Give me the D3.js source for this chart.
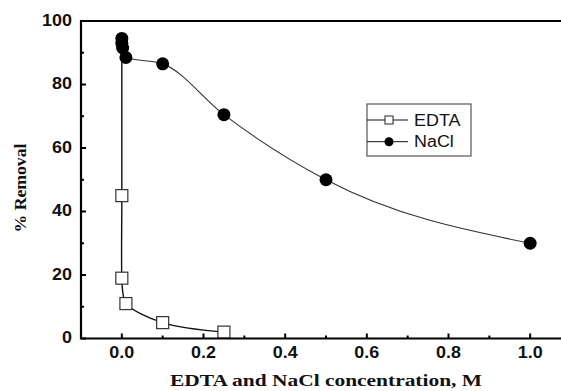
<!DOCTYPE html>
<html lang="en">
<head>
  <meta charset="UTF-8">
  <title>% Removal vs EDTA and NaCl concentration</title>
  <script src="https://d3js.org/d3.v7.min.js"></script>
  <style>
    body { margin: 0; background: #fff; }
    .tick-label { font-family: Arial, "Liberation Sans", sans-serif; font-weight: bold; font-size: 16px; fill: #111; }
    .axis-title { font-family: "Times New Roman", "Liberation Serif", serif; font-weight: bold; font-size: 16px; fill: #111; }
    .legend-text { font-family: Arial, "Liberation Sans", sans-serif; font-size: 16px; fill: #111; }
  </style>
</head>
<body>
  <div id="chart"></div>

  <script>
    // data
    const edtaConc = [0, 0, 0, 0.003, 0.01, 0.1, 0.25];
    const edtaRemoval = [90, 45, 19, 14, 11, 5, 2];
    const edtaShown = [false, true, true, false, true, true, true];

    const naclConc = [0, 0, 0.002, 0.01, 0.1, 0.25, 0.5, 1.0];
    const naclRemoval = [94.5, 93, 91.5, 88.5, 86.5, 70.5, 50, 30];

    const xTicks = [0.0, 0.2, 0.4, 0.6, 0.8, 1.0];
    const xMinor = [-0.1, 0.1, 0.3, 0.5, 0.7, 0.9];
    const yTicks = [0, 20, 40, 60, 80, 100];
    const yMinor = [10, 30, 50, 70, 90];

    const W = 561, H = 391;
    const plot = {left: 81, right: 571, top: 21, bottom: 338.5};
    const stretch = 1.12; // the original figure is a bit wide

    const x = d3.scaleLinear().domain([-0.1, 1.1]).range([plot.left, plot.right]);
    const y = d3.scaleLinear().domain([0, 100]).range([plot.bottom, plot.top]);

    const svg = d3.select("#chart").append("svg")
      .attr("width", W)
      .attr("height", H);

    function widen(sel) {
      sel.each(function() {
        const w = this.getComputedTextLength();
        d3.select(this).attr("textLength", w * stretch).attr("lengthAdjust", "spacingAndGlyphs");
      });
    }

    const edta = edtaConc.map((c, i) => [c, edtaRemoval[i], edtaShown[i]]);
    const nacl = naclConc.map((c, i) => [c, naclRemoval[i]]);

    // lines
    const edtaLine = d3.line()
      .x(d => x(d[0]))
      .y(d => y(d[1]))
      .curve(d3.curveCatmullRom.alpha(0.5));

    // monotone needs increasing x, keep the last point of each x group
    const naclPath = nacl.filter((d, i, a) => i === a.length - 1 || d[0] < a[i + 1][0]);
    const naclLine = d3.line()
      .x(d => x(d[0]))
      .y(d => y(d[1]))
      .curve(d3.curveMonotoneX);

    svg.append("path")
      .attr("d", edtaLine(edta))
      .attr("fill", "none")
      .attr("stroke", "#111")
      .attr("stroke-width", 1.4);

    svg.append("path")
      .attr("d", naclLine(naclPath))
      .attr("fill", "none")
      .attr("stroke", "#333")
      .attr("stroke-width", 1.1);

    // markers
    const sq = 12;
    svg.append("g")
      .selectAll("rect")
      .data(edta.filter(d => d[2]))
      .enter()
      .append("rect")
      .attr("x", d => x(d[0]) - sq / 2)
      .attr("y", d => y(d[1]) - sq / 2)
      .attr("width", sq)
      .attr("height", sq)
      .attr("fill", "#fff")
      .attr("stroke", "#333")
      .attr("stroke-width", 1.2);

    svg.append("g")
      .selectAll("circle")
      .data(nacl)
      .enter()
      .append("circle")
      .attr("cx", d => x(d[0]))
      .attr("cy", d => y(d[1]))
      .attr("r", 6.5)
      .attr("fill", "#000");

    // frame (right side falls outside the picture)
    svg.append("path")
      .attr("d", `M${plot.right},${plot.top}H${plot.left}V${plot.bottom}H${plot.right}`)
      .attr("fill", "none")
      .attr("stroke", "#000")
      .attr("stroke-width", 2.2);

    // ticks, inward
    const ticks = svg.append("g").attr("stroke", "#000").attr("stroke-width", 2);
    xTicks.forEach(t => {
      ticks.append("line").attr("x1", x(t)).attr("x2", x(t))
        .attr("y1", plot.bottom).attr("y2", plot.bottom - 5);
    });
    xMinor.forEach(t => {
      ticks.append("line").attr("x1", x(t)).attr("x2", x(t))
        .attr("y1", plot.bottom).attr("y2", plot.bottom - 3);
    });
    yTicks.forEach(t => {
      ticks.append("line").attr("x1", plot.left).attr("x2", plot.left + 5)
        .attr("y1", y(t)).attr("y2", y(t));
    });
    yMinor.forEach(t => {
      ticks.append("line").attr("x1", plot.left).attr("x2", plot.left + 3)
        .attr("y1", y(t)).attr("y2", y(t));
    });

    // tick labels
    svg.append("g")
      .selectAll("text")
      .data(xTicks)
      .enter()
      .append("text")
      .attr("class", "tick-label")
      .attr("x", d => x(d))
      .attr("y", 358)
      .attr("text-anchor", "middle")
      .text(d => d.toFixed(1))
      .call(widen);

    svg.append("g")
      .selectAll("text")
      .data(yTicks)
      .enter()
      .append("text")
      .attr("class", "tick-label")
      .attr("x", 72)
      .attr("y", d => y(d) + 4.5)
      .attr("text-anchor", "end")
      .text(d => d)
      .call(widen);

    // axis titles
    svg.append("text")
      .attr("class", "axis-title")
      .attr("x", (plot.left + plot.right) / 2)
      .attr("y", 386)
      .attr("text-anchor", "middle")
      .attr("textLength", 312)
      .attr("lengthAdjust", "spacingAndGlyphs")
      .text("EDTA and NaCl concentration, M");

    svg.append("text")
      .attr("class", "axis-title")
      .attr("transform", "translate(26,188) rotate(-90)")
      .attr("text-anchor", "middle")
      .attr("textLength", 89)
      .attr("lengthAdjust", "spacingAndGlyphs")
      .text("% Removal");

    // legend
    const lg = svg.append("g").attr("transform", "translate(367,104)");
    lg.append("rect")
      .attr("width", 104).attr("height", 52)
      .attr("fill", "#fff").attr("stroke", "#555").attr("stroke-width", 1.2);

    const rows = [{name: "EDTA", yy: 16}, {name: "NaCl", yy: 37.7}];
    rows.forEach((r, i) => {
      lg.append("line").attr("x1", 0).attr("x2", 41)
        .attr("y1", r.yy).attr("y2", r.yy)
        .attr("stroke", "#111").attr("stroke-width", 1);
      if (i === 0) {
        lg.append("rect").attr("x", 18).attr("y", r.yy - 4)
          .attr("width", 8).attr("height", 8)
          .attr("fill", "#fff").attr("stroke", "#222").attr("stroke-width", 1);
      } else {
        lg.append("circle").attr("cx", 22).attr("cy", r.yy).attr("r", 4.5).attr("fill", "#000");
      }
      lg.append("text")
        .attr("class", "legend-text")
        .attr("x", 47)
        .attr("y", r.yy + 5.5)
        .text(r.name)
        .call(widen);
    });
  </script>
</body>
</html>
